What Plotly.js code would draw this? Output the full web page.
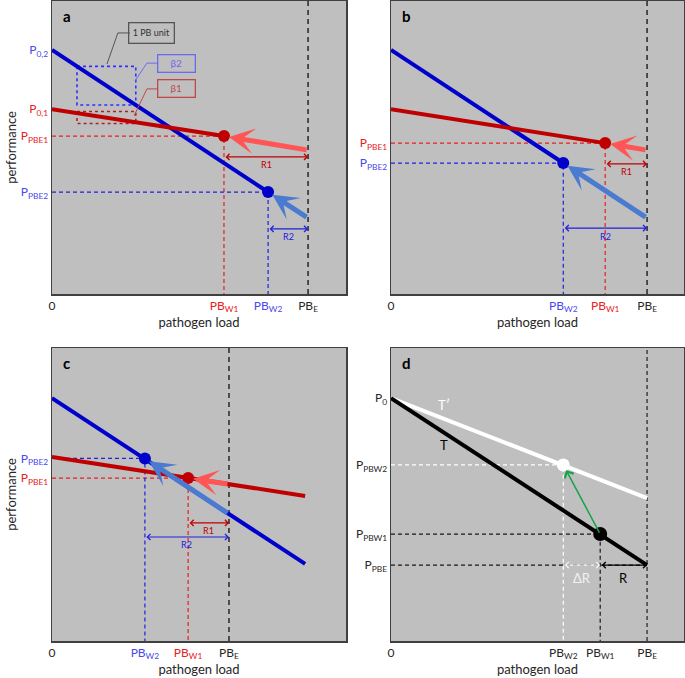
<!DOCTYPE html>
<html>
<head>
<meta charset="utf-8">
<script src="https://cdn.plot.ly/plotly-3.0.1.min.js"></script>
<style>
  html, body { margin: 0; padding: 0; background: #fff; }
  #graph { width: 685px; height: 678px; }
</style>
</head>
<body>
<div id="graph"></div>
<script>
// every panel uses 0-100 on both axes

// panel a
var aBlueX = [0, 73.5], aBlueY = [83.3, 34.8];
var aRedX = [0, 58.5], aRedY = [63.1, 53.9];
var aPBE = 87.1;
var aTailY = [49.1, 25.9];   // red, blue arrow tails at PB_E
var aSpanY = [46.8, 22.2];   // R1, R2

// slope boxes of panel a (1 PB unit wide)
var boxX = [8.5, 28.5];
var boxBlueY = [77.7, 64.5];
var boxRedY = [62.3, 58.2];
var calloutText = ["1 PB unit", "\u03b22", "\u03b21"];
var calloutX = [34, 42.5, 42.5];
var calloutY = [89.1, 78.8, 70.0];
var leaderX = [[26.5, 22.4, 18.7], [36.1, 32.3, 28.2], [36.1, 32.3, 27.9]];
var leaderY = [[89.1, 89.1, 78.5], [78.8, 78.8, 72.7], [70.0, 70.0, 60.8]];

// panel b
var bBlueX = [0, 58.8], bBlueY = [83.3, 44.7];
var bRedX = [0, 73.1], bRedY = [63.1, 51.5];
var bPBE = 87.4;
var bTailY = [49.1, 25.9];
var bSpanY = [44.4, 22.5];

// panel c
var cBlueX = [0, 86.1], cBlueY = [82.9, 26.3];
var cRedX = [0, 86.1], cRedY = [62.8, 49.5];
var cDotX = [46.3, 31.6], cDotY = [55.6, 62.3];   // red W1, blue W2
var cPBE = 60.2;
var cTailY = [53.5, 43.3];
var cSpanY = [40.3, 35.5];

// panel d
var dTX = [0, 87.4], dTY = [82.9, 25.9];
var dT2X = [0, 87.4], dT2Y = [82.9, 48.8];
var dDotX = [71.4, 58.8], dDotY = [36.5, 60.1];   // on T (W1), on T' (W2)
var dPBE = 87.4;
var dPPBE = 25.9;
var dLabelX = [18, 18], dLabelY = [80.5, 66.9];

var BLUE = "#0000cc", LBLUE = "#4a7bd0", RED = "#c00000", LRED = "#ff5555";
var TBLUE = "#4848f0", TRED = "#e82020", GREY = "#404040", INK = "#262626";

function col(c, s) {
  return "<span style='color:" + c + "'>" + s + "</span>";
}

var traces = [];
var anns = [];

function line(n, xs, ys, color, width, dash) {
  traces.push({
    x: xs, y: ys, xaxis: "x" + n, yaxis: "y" + n, mode: "lines",
    line: { color: color, width: width, dash: dash || "solid" },
    hoverinfo: "skip", showlegend: false,
  });
}
function dot(n, x, y, color, size) {
  traces.push({
    x: [x], y: [y], xaxis: "x" + n, yaxis: "y" + n, mode: "markers",
    marker: { color: color, size: size, line: { width: 0 } },
    hoverinfo: "skip", showlegend: false,
  });
}
function push(n, x, y, tx, ty, color, width, size, head, stand) {
  anns.push({
    xref: "x" + n, yref: "y" + n, axref: "x" + n, ayref: "y" + n,
    x: x, y: y, ax: tx, ay: ty, text: "", showarrow: true,
    arrowhead: head, arrowsize: size, arrowwidth: width, arrowcolor: color,
    standoff: stand,
  });
}
function span(n, x0, x1, y, color, label, fs) {
  anns.push({
    xref: "x" + n, yref: "y" + n, axref: "x" + n, ayref: "y" + n,
    x: x1, y: y, ax: x0, ay: y, text: "", showarrow: true,
    arrowside: "end+start", arrowhead: 4, startarrowhead: 4,
    arrowsize: 1, startarrowsize: 1, arrowwidth: 1.2, arrowcolor: color,
  });
  anns.push({
    xref: "x" + n, yref: "y" + n, x: (x0 + x1) / 2, y: y, yshift: fs > 10 ? -13 : -8,
    text: label, showarrow: false, font: { size: fs, color: color },
  });
}
function letter(n, s) {
  anns.push({
    xref: "x" + n + " domain", yref: "y" + n + " domain", x: 0.03, y: 0.985,
    xanchor: "left", yanchor: "top", text: "<b>" + s + "</b>", showarrow: false,
    font: { size: 15, color: "#000" },
  });
}

// ---- panel a ----
line("", [0, aRedX[1], aRedX[1]], [aRedY[1], aRedY[1], 0], TRED, 1.2, "4px,3px");
line("", [0, aBlueX[1], aBlueX[1]], [aBlueY[1], aBlueY[1], 0], "#2020e0", 1.2, "4px,3px");
line("", [aPBE, aPBE], [0, 100], GREY, 1.8, "5px,4px");
line("", [boxX[0], boxX[1], boxX[1], boxX[0], boxX[0]],
  [boxBlueY[0], boxBlueY[0], boxBlueY[1], boxBlueY[1], boxBlueY[0]], "#3030ff", 1.6, "dot");
line("", [boxX[0], boxX[1], boxX[1], boxX[0], boxX[0]],
  [boxRedY[0], boxRedY[0], boxRedY[1], boxRedY[1], boxRedY[0]], "#b02020", 1.6, "dot");
line("", aBlueX, aBlueY, BLUE, 4);
line("", aRedX, aRedY, RED, 4);
dot("", aRedX[1], aRedY[1], RED, 12);
dot("", aBlueX[1], aBlueY[1], BLUE, 12);
var leaderCol = ["#555555", "#6a6af0", "#c04848"];
for (var i = 0; i < 3; i++) {
  line("", leaderX[i], leaderY[i], leaderCol[i], 1);
  anns.push({
    xref: "x", yref: "y", x: calloutX[i], y: calloutY[i], text: calloutText[i],
    showarrow: false, font: { size: i == 0 ? 9 : 10, color: i == 0 ? "#333" : leaderCol[i] },
    bordercolor: leaderCol[i], borderwidth: 1.3, borderpad: 3,
    width: i == 0 ? 38 : 30, height: i == 0 ? 13 : 10,
  });
}
push("", aRedX[1], aRedY[1], aPBE, aTailY[0], LRED, 5, 0.85, 3, 5);
push("", aBlueX[1], aBlueY[1], aPBE, aTailY[1], LBLUE, 5, 0.85, 3, 5);
span("", aRedX[1], aPBE, aSpanY[0], RED, "R1", 9);
span("", aBlueX[1], aPBE, aSpanY[1], "#2020e0", "R2", 9);
letter("", "a");

// ---- panel b ----
line("2", [0, bRedX[1], bRedX[1]], [bRedY[1], bRedY[1], 0], TRED, 1.2, "4px,3px");
line("2", [0, bBlueX[1], bBlueX[1]], [bBlueY[1], bBlueY[1], 0], "#2020e0", 1.2, "4px,3px");
line("2", [bPBE, bPBE], [0, 100], GREY, 1.8, "5px,4px");
line("2", bBlueX, bBlueY, BLUE, 4);
line("2", bRedX, bRedY, RED, 4);
dot("2", bRedX[1], bRedY[1], RED, 12);
dot("2", bBlueX[1], bBlueY[1], BLUE, 12);
push("2", bRedX[1], bRedY[1], bPBE, bTailY[0], LRED, 5, 0.85, 3, 5);
push("2", bBlueX[1], bBlueY[1], bPBE, bTailY[1], LBLUE, 5, 0.85, 3, 5);
span("2", bRedX[1], bPBE, bSpanY[0], RED, "R1", 9);
span("2", bBlueX[1], bPBE, bSpanY[1], "#2020e0", "R2", 9);
letter("2", "b");

// ---- panel c ----
line("3", [0, cDotX[0], cDotX[0]], [cDotY[0], cDotY[0], 0], TRED, 1.2, "4px,3px");
line("3", [0, cDotX[1], cDotX[1]], [cDotY[1], cDotY[1], 0], "#2020e0", 1.2, "4px,3px");
line("3", [cPBE, cPBE], [0, 100], GREY, 1.8, "5px,4px");
line("3", cBlueX, cBlueY, BLUE, 4);
line("3", cRedX, cRedY, RED, 4);
dot("3", cDotX[0], cDotY[0], RED, 12);
dot("3", cDotX[1], cDotY[1], BLUE, 12);
push("3", cDotX[0], cDotY[0], cPBE, cTailY[0], LRED, 5, 0.85, 3, 5);
push("3", cDotX[1], cDotY[1], cPBE, cTailY[1], LBLUE, 5, 0.85, 3, 5);
span("3", cDotX[0], cPBE, cSpanY[0], RED, "R1", 9);
span("3", cDotX[1], cPBE, cSpanY[1], "#2020e0", "R2", 9);
letter("3", "c");

// ---- panel d ----
line("4", [0, dDotX[0], dDotX[0]], [dDotY[0], dDotY[0], 0], "#1a1a1a", 1.2, "4px,3px");
line("4", [0, dPBE], [dPPBE, dPPBE], "#1a1a1a", 1.2, "4px,3px");
line("4", [0, dDotX[1], dDotX[1]], [dDotY[1], dDotY[1], 0], "#ffffff", 1.2, "4px,3px");
line("4", [dPBE, dPBE], [0, 100], GREY, 1.5, "4px,3px");
line("4", dT2X, dT2Y, "#ffffff", 4);
line("4", dTX, dTY, "#000000", 4);
dot("4", dDotX[0], dDotY[0], "#000000", 14);
dot("4", dDotX[1], dDotY[1], "#ffffff", 13);
push("4", dDotX[1], dDotY[1], dDotX[0], dDotY[0], "#16a34a", 1.5, 1.3, 4, 6);
span("4", dDotX[1], dDotX[0], dPPBE, "#f2f2f2", "\u0394R", 13);
span("4", dDotX[0], dPBE, dPPBE, "#000000", "R", 13);
anns.push({ xref: "x4", yref: "y4", x: dLabelX[0], y: dLabelY[0], text: "T\u2032",
  showarrow: false, font: { size: 13, color: "#ffffff" } });
anns.push({ xref: "x4", yref: "y4", x: dLabelX[1], y: dLabelY[1], text: "T",
  showarrow: false, font: { size: 13, color: "#000000" } });
letter("4", "d");

function P(c, sub) {
  return col(c, "P<sub>" + sub + "</sub>");
}
function PB(c, sub) {
  return col(c, "PB<sub>" + sub + "</sub>");
}

var FONT = "Lato, 'Open Sans', sans-serif";
function xa(dom, anchor, vals, text) {
  return {
    domain: dom, anchor: anchor, range: [0, 100], fixedrange: true,
    showgrid: false, zeroline: false, showline: true, mirror: true,
    linecolor: GREY, linewidth: 1.5, ticks: "",
    tickvals: vals, ticktext: text, tickangle: 0,
    tickfont: { size: 12, color: INK, family: FONT },
    title: { text: "pathogen load", font: { size: 13, color: INK, family: FONT }, standoff: 4 },
  };
}
function ya(dom, anchor, vals, text, title) {
  return {
    domain: dom, anchor: anchor, range: [0, 100], fixedrange: true,
    showgrid: false, zeroline: false, showline: true, mirror: true,
    linecolor: GREY, linewidth: 1.5, ticks: "",
    tickvals: vals, ticktext: text,
    tickfont: { size: 12, color: INK, family: FONT },
    title: { text: title, font: { size: 13, color: INK, family: FONT } },
  };
}

var colL = [52 / 685, 346 / 685], colR = [391 / 685, 684 / 685];
var rowT = [1 - 294 / 678, 1 - 1 / 678], rowB = [1 - 641 / 678, 1 - 348 / 678];

var layout = {
  width: 685, height: 678,
  margin: { l: 0, r: 0, t: 0, b: 0 },
  paper_bgcolor: "#ffffff", plot_bgcolor: "#bfbfbf",
  font: { family: FONT, color: INK },
  showlegend: false, hovermode: false,
  xaxis: xa(colL, "y", [0, aRedX[1], aBlueX[1], aPBE],
    ["0", PB(TRED, "W1"), PB(TBLUE, "W2"), PB(INK, "E")]),
  yaxis: ya(rowT, "x", [aBlueY[0], aRedY[0], aRedY[1], aBlueY[1]],
    [P(TBLUE, "0,2"), P(TRED, "0,1"), P(TRED, "PBE1"), P(TBLUE, "PBE2")], "performance"),
  xaxis2: xa(colR, "y2", [0, bBlueX[1], bRedX[1], bPBE],
    ["0", PB(TBLUE, "W2"), PB(TRED, "W1"), PB(INK, "E")]),
  yaxis2: ya(rowT, "x2", [bRedY[1], bBlueY[1]],
    [P(TRED, "PBE1"), P(TBLUE, "PBE2")], ""),
  xaxis3: xa(colL, "y3", [0, cDotX[1], cDotX[0], cPBE],
    ["0", PB(TBLUE, "W2"), PB(TRED, "W1"), PB(INK, "E")]),
  yaxis3: ya(rowB, "x3", [cDotY[1], cDotY[0]],
    [P(TBLUE, "PBE2"), P(TRED, "PBE1")], "performance"),
  xaxis4: xa(colR, "y4", [0, dDotX[1], dDotX[0], dPBE],
    ["0", PB(INK, "W2"), PB(INK, "W1"), PB(INK, "E")]),
  yaxis4: ya(rowB, "x4", [dTY[0], dDotY[1], dDotY[0], dPPBE],
    [P(INK, "0"), P(INK, "PBW2"), P(INK, "PBW1"), P(INK, "PBE")], ""),
  annotations: anns,
};

Plotly.newPlot("graph", traces, layout, { displayModeBar: false, staticPlot: true });
</script>
</body>
</html>
